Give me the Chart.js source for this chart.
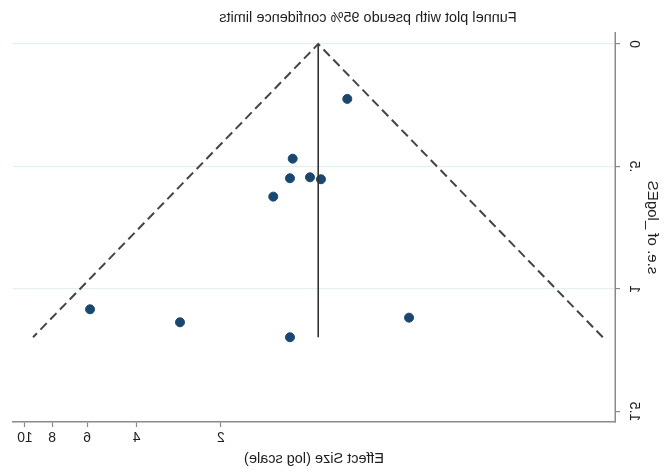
<!DOCTYPE html>
<html>
<head>
<meta charset="utf-8">
<script src="https://cdn.jsdelivr.net/npm/chart.js@4"></script>
<style>
  body { margin: 0; background: #fff; }
  /* the reference is a mirror image, so flip the whole canvas */
  #myChart { transform: scaleX(-1); display: block; }
</style>
</head>
<body>
<canvas id="myChart" width="672" height="474"></canvas>
<script>
// study effect sizes (x, log scale) and their standard errors (y)
const effectSizes = [0.709, 1.110, 1.135, 0.963, 0.880, 1.302, 5.86, 2.80, 1.135, 0.427];
const stdErrors = [0.224, 0.468, 0.548, 0.544, 0.552, 0.623, 1.083, 1.136, 1.197, 1.117];
// pooled estimate and pseudo 95% limits at the largest s.e.
const pooled = 0.90;
const maxSe = 1.197;
const lowerLimit = 0.087;
const upperLimit = 9.36;
const xTicks = [2, 4, 6, 8, 10];
const yTicks = [0, 0.5, 1, 1.5];
const yTickLabels = ["0", ".5", "1", "1.5"];

const font = "'Liberation Sans', Arial, sans-serif";
const axisGrey = "#8a8a8a";

const points = effectSizes.map((v, i) => ({ x: v, y: stdErrors[i] }));

const textPlugin = {
  id: "textPlugin",
  afterDraw(chart) {
    const ctx = chart.ctx;
    const y = chart.scales.y;
    ctx.save();
    ctx.fillStyle = "#1e1e1e";
    // main title
    ctx.font = "14.5px " + font;
    ctx.textAlign = "center";
    ctx.textBaseline = "middle";
    ctx.fillText("Funnel plot with pseudo 95% confidence limits", 304, 18);
    // y tick labels, rotated like stata
    ctx.font = "14px " + font;
    yTicks.forEach((t, i) => {
      ctx.save();
      ctx.translate(38, y.getPixelForValue(t));
      ctx.rotate(-Math.PI / 2);
      ctx.fillText(yTickLabels[i], 0, 0);
      ctx.restore();
    });
    // y axis title
    ctx.font = "15px " + font;
    ctx.save();
    ctx.translate(20, (chart.chartArea.top + chart.chartArea.bottom) / 2);
    ctx.rotate(-Math.PI / 2);
    ctx.fillText("s.e. of _logES", 0, 0);
    ctx.restore();
    ctx.restore();
  }
};

const data = {
  datasets: [
    {
      type: "line",
      data: [{ x: lowerLimit, y: maxSe }, { x: pooled, y: 0 }, { x: upperLimit, y: maxSe }],
      borderColor: "#444",
      borderWidth: 2,
      borderDash: [9, 5],
      pointRadius: 0,
      fill: false
    },
    {
      type: "line",
      data: [{ x: pooled, y: 0 }, { x: pooled, y: maxSe }],
      borderColor: "#333",
      borderWidth: 1.6,
      pointRadius: 0,
      fill: false
    },
    {
      type: "scatter",
      data: points,
      backgroundColor: "#1a476f",
      borderColor: "#1a476f",
      pointRadius: 4.5
    }
  ]
};

const config = {
  type: "scatter",
  data: data,
  options: {
    responsive: false,
    animation: false,
    layout: { padding: { left: 0, right: 13, top: 33, bottom: 0 } },
    plugins: { legend: { display: false }, tooltip: { enabled: false } },
    scales: {
      x: {
        type: "logarithmic",
        min: 0.0787,
        max: 11.03,
        afterBuildTicks: (s) => { s.ticks = xTicks.map((v) => ({ value: v })); },
        afterFit: (s) => { s.height = 52; },
        ticks: {
          callback: (v) => String(v),
          color: "#1e1e1e",
          font: { family: font, size: 14 },
          padding: 3,
          maxRotation: 0,
          autoSkip: false
        },
        grid: { drawOnChartArea: false, drawTicks: true, tickLength: 5, tickColor: axisGrey, tickWidth: 1.2 },
        border: { color: axisGrey, width: 1.5 },
        title: {
          display: true,
          text: "Effect Size (log scale)",
          color: "#1e1e1e",
          font: { family: font, size: 14.5 },
          padding: { top: 1, bottom: 6 }
        }
      },
      y: {
        reverse: true,
        min: -0.045,
        max: 1.543,
        afterBuildTicks: (s) => { s.ticks = yTicks.map((v) => ({ value: v })); },
        afterFit: (s) => { s.width = 57; },
        ticks: { display: false },
        grid: {
          color: (c) => (c.tick && c.tick.value === 1.5 ? "rgba(0,0,0,0)" : "#e6eff2"),
          lineWidth: 1.2,
          drawTicks: true,
          tickLength: 5,
          tickColor: axisGrey,
          tickWidth: 1.2
        },
        border: { color: axisGrey, width: 1.5 }
      }
    }
  },
  plugins: [textPlugin]
};

var myChart = new Chart(document.getElementById("myChart"), config);
</script>
</body>
</html>
